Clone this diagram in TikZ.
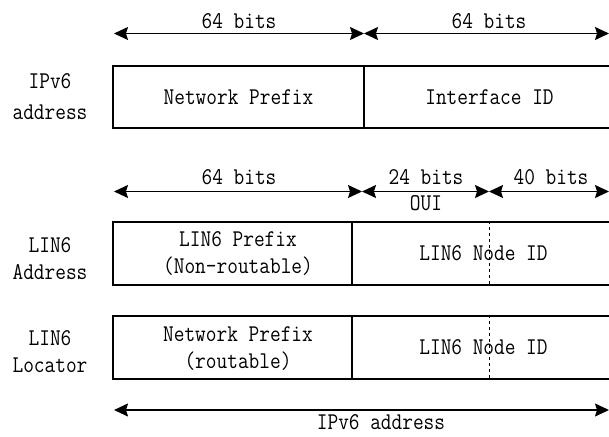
\documentclass[tikz,border=0pt]{standalone}
\usepackage{fontspec}
\setmainfont[FakeStretch=0.865]{Latin Modern Mono}
\usetikzlibrary{arrows.meta}
\tikzset{
  field/.style={draw, line width=1.3pt, inner sep=0pt, minimum height=62pt},
  dimline/.style={{Stealth[length=14pt,width=13pt,inset=2pt]}-{Stealth[length=14pt,width=13pt,inset=2pt]}, line width=1.3pt},
  txt/.style={font=\fontsize{24}{27}\selectfont, inner sep=0pt, align=center}
}
\begin{document}
\begin{tikzpicture}[x=1pt, y=-1pt]
\useasboundingbox (0,0) rectangle (609,436);
% IPv6 address
\node[txt] (l1) at (50, 96.5) {IPv6\\[4pt]address};
\node[field, minimum width=251pt, txt] (pfx) at (238.5, 97) {Network Prefix};
\node[field, minimum width=251pt, txt] (iid) at (489.5, 97) {Interface ID};
\coordinate (t0) at (114, 33.5);
\coordinate (t1) at (364, 33.5);
\coordinate (t2) at (609, 33.5);
\draw[dimline] (t0) -- (t1);
\draw[dimline] (t1) -- (t2);
\node[txt] (t01) at (239, 21.5) {64 bits};
\node[txt] (t12) at (489, 21.5) {64 bits};
% LIN6 address
\node[txt] (l2) at (50, 258.5) {LIN6\\Address};
\node[field, minimum width=239pt, minimum height=63pt] (lpfx) at (232.5, 253.5) {};
\node[field, minimum width=263pt, minimum height=63pt, txt] (lnid) at (483.5, 253.5) {LIN6 Node ID};
\node[txt] (lpfxt) at (238, 253.5) {LIN6 Prefix\\(Non-routable)};
\draw[dashed, line width=1pt] ([xshift=138pt]lnid.north west) -- ([xshift=138pt]lnid.south west);
\coordinate (m0) at (114, 191.5);
\coordinate (m1) at (362, 191.5);
\coordinate (m2) at (489, 191.5);
\coordinate (m3) at (609, 191.5);
\draw[dimline] (m0) -- (m1);
\draw[dimline] (m1) -- (m2);
\draw[dimline] (m2) -- (m3);
\node[txt] (m01) at (239, 177) {64 bits};
\node[txt] (m12) at (426, 177) {24 bits};
\node[txt] (m23) at (551, 177) {40 bits};
\node[txt] (oui) at (426, 203) {OUI};
% LIN6 locator
\node[txt] (l3) at (50, 351.5) {LIN6\\Locator};
\node[field, minimum width=239pt, minimum height=63pt] (npfx) at (232.5, 347.5) {};
\node[field, minimum width=263pt, minimum height=63pt, txt] (nnid) at (483.5, 347.5) {LIN6 Node ID};
\node[txt] (npfxt) at (238, 348.5) {Network Prefix\\(routable)};
\draw[dashed, line width=1pt] ([xshift=138pt]nnid.north west) -- ([xshift=138pt]nnid.south west);
\coordinate (b0) at (114, 410);
\coordinate (b1) at (609, 410);
\draw[dimline] (b0) -- (b1);
\node[txt] (all) at (381, 422) {IPv6 address};
\end{tikzpicture}
\end{document}
